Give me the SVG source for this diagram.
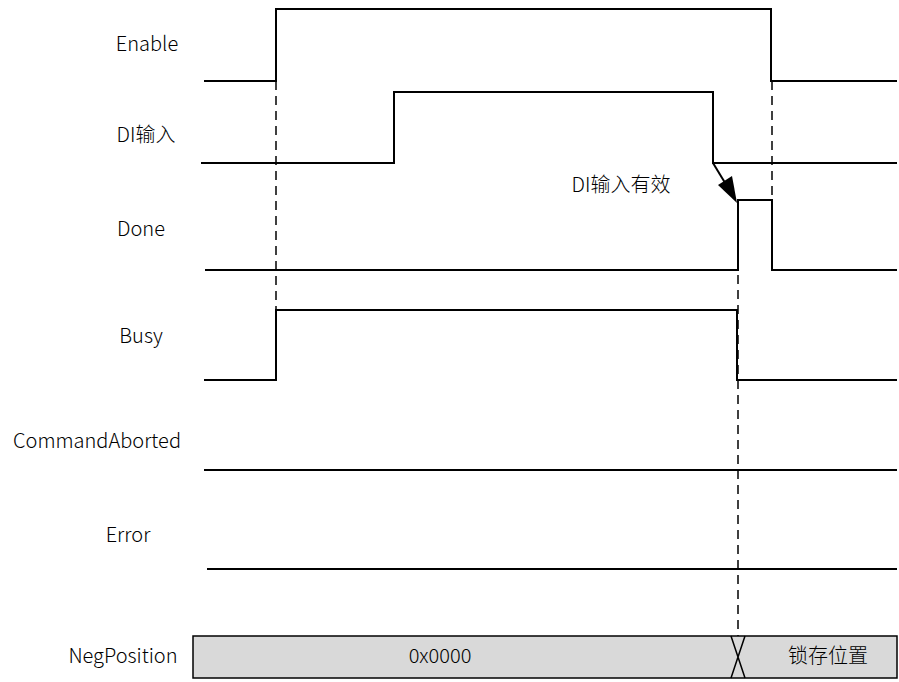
<svg xmlns="http://www.w3.org/2000/svg" width="899" height="682" viewBox="0 0 899 682">
<defs>
<style>
.sig{fill:none;stroke:#000;stroke-width:2}
.dash{fill:none;stroke:#000;stroke-width:1.5;stroke-dasharray:9,6}
.lbl{font-family:"Noto Sans CJK SC","Noto Sans",sans-serif;font-size:20px;font-weight:300;fill:#000;text-anchor:middle}
</style>
</defs>
<rect width="899" height="682" fill="#fff"/>
<g id="connectors">
<line class="dash" x1="276" y1="81" x2="276" y2="310"/>
<line class="dash" x1="772" y1="81" x2="772" y2="200"/>
<line class="dash" x1="738" y1="200" x2="738" y2="636"/>
<line x1="713" y1="163" x2="730" y2="191" stroke="#000" stroke-width="2"/>
<path d="M737,203 L718,185 L732,176 z" fill="#000"/>
</g>
<g id="enable">
<text class="lbl" x="147" y="51">Enable</text>
<polyline class="sig" points="204,81 276,81 276,9 771,9 771,81 897,81"/>
</g>
<g id="di">
<text class="lbl" x="146" y="142">DI输入</text>
<polyline class="sig" points="201,163 394,163 394,92 713,92 713,163 897,163"/>
<text class="lbl" x="621" y="192">DI输入有效</text>
</g>
<g id="done">
<text class="lbl" x="141" y="236">Done</text>
<polyline class="sig" points="205,270 738,270 738,200 772,200 772,270 897,270"/>
</g>
<g id="busy">
<text class="lbl" x="141" y="343">Busy</text>
<polyline class="sig" points="204,380 276,380 276,310 737,310 737,380 897,380"/>
</g>
<g id="commandaborted">
<text class="lbl" x="97" y="448">CommandAborted</text>
<line class="sig" x1="204" y1="470" x2="897" y2="470"/>
</g>
<g id="error">
<text class="lbl" x="128" y="542">Error</text>
<line class="sig" x1="207" y1="569" x2="897" y2="569"/>
</g>
<g id="negposition">
<text class="lbl" x="123" y="663">NegPosition</text>
<rect x="193" y="636" width="704" height="42" fill="#d9d9d9" stroke="#000" stroke-width="1.5"/>
<path d="M731,636 L745,678 M745,636 L731,678" fill="none" stroke="#000" stroke-width="1.5"/>
<text class="lbl" x="440" y="663">0x0000</text>
<text class="lbl" x="828" y="663">锁存位置</text>
</g>
</svg>
